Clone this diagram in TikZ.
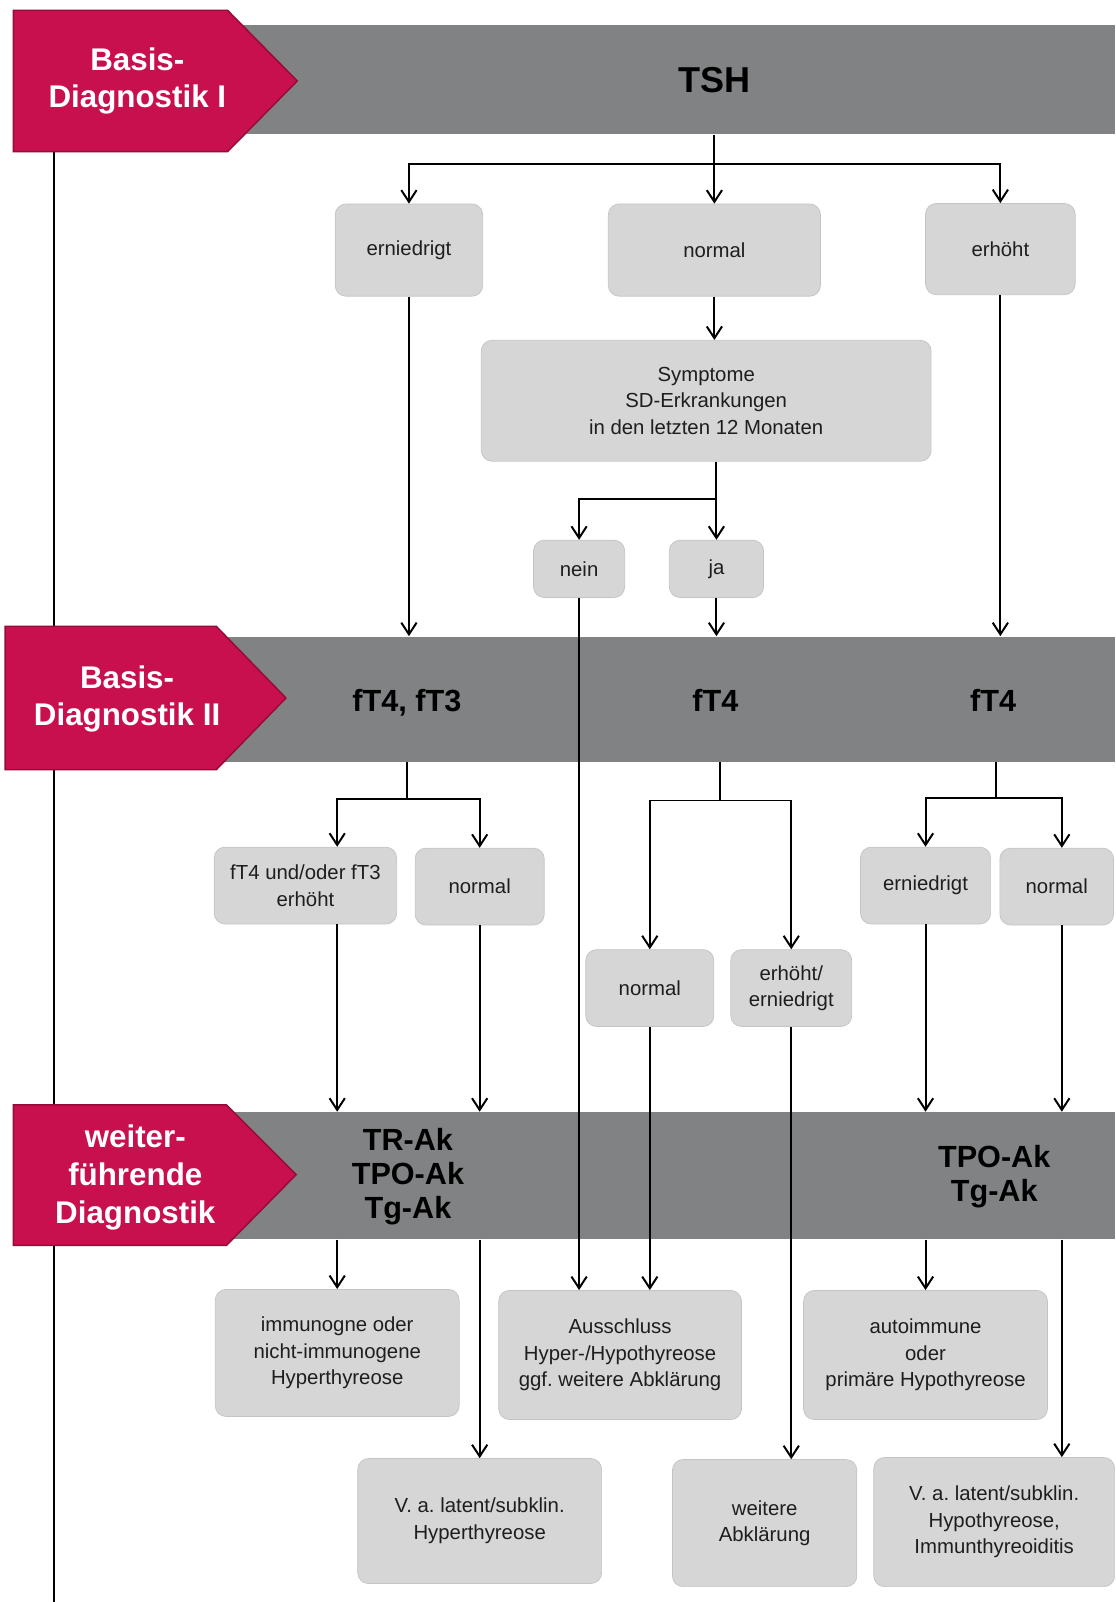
\documentclass[tikz,border=0pt]{standalone}
\usepackage{fontspec}
\setmainfont{Liberation Sans}
\frenchspacing
\usetikzlibrary{arrows.meta}
\definecolor{tabred}{RGB}{200,16,78}
\definecolor{tabedge}{RGB}{150,10,55}
\definecolor{bargray}{RGB}{128,130,131}
\definecolor{boxgray}{RGB}{214,214,214}
\definecolor{boxedge}{RGB}{196,196,196}
\definecolor{ink}{RGB}{30,30,30}

\begin{document}
\begin{tikzpicture}[x=0.02cm, y=-0.02cm,
  box/.style={draw=boxedge, fill=boxgray, rounded corners=6pt, align=center, inner sep=0pt, text=ink, font=\fontsize{11.3}{14.8}\selectfont},
  bar/.style={fill=bargray, draw=none, inner sep=0pt},
  head/.style={align=center, text=black, font=\fontsize{17}{18.8}\selectfont\bfseries},
  tab/.style={fill=tabred, draw=tabedge, line width=0.8pt},
  tabtext/.style={align=center, text=white, font=\fontsize{17.4}{21}\selectfont\bfseries},
  line/.style={draw=black, line width=1.1pt},
  arr/.style={line, -{Straight Barb[length=6.5pt,width=8.5pt,line width=1.1pt]}}]
\useasboundingbox (0,0) rectangle (1088,1563);
\draw[line] (53,20) -- (53,1563);
\node[bar, minimum width=17.26cm, minimum height=2.14cm] (B1) at (656.5,77.5) {};
\node[bar, minimum width=17.46cm, minimum height=2.44cm] (B2) at (651.5,682) {};
\node[bar, minimum width=17.26cm, minimum height=2.48cm] (B3) at (656.5,1147) {};
\draw[tab] (13,10) -- (222,10) -- (290,79) -- (222,148) -- (13,148) -- cycle;
\draw[tab] (5,611) -- (211,611) -- (279,681) -- (211,751) -- (5,751) -- cycle;
\draw[tab] (13,1078) -- (221,1078) -- (289,1146) -- (221,1215) -- (13,1215) -- cycle;
\node[tabtext] (L1) at (134,79) {Basis-\\Diagnostik I};
\node[tabtext] (L2) at (124,682) {Basis-\\Diagnostik II};
\node[tabtext] (L3) at (132,1149) {weiter-\\führende\\Diagnostik};
\node[head, font=\fontsize{20}{22}\selectfont\bfseries] (TSH) at (697,78) {TSH};
\node[head, text depth=0pt] (F1) at (397,683) {fT4, fT3};
\node[head, text depth=0pt] (F2) at (698,683) {fT4};
\node[head, text depth=0pt] (F3) at (969,683) {fT4};
\node[head] (K1) at (398,1148) {TR-Ak\\TPO-Ak\\Tg-Ak};
\node[head] (K2) at (970,1148) {TPO-Ak\\Tg-Ak};
\node[box, minimum width=2.88cm, minimum height=1.8cm] (E1) at (399,244) {erniedrigt};
\node[box, minimum width=4.14cm, minimum height=1.8cm] (N1) at (697,244) {normal};
\node[box, minimum width=2.92cm, minimum height=1.78cm] (H1) at (976,243) {erhöht};
\node[box, minimum width=8.78cm, minimum height=2.36cm] (S1) at (689,391) {Symptome\\SD-Erkrankungen\\in den letzten 12 Monaten};
\node[box, minimum width=1.78cm, minimum height=1.12cm] (NE) at (565,555) {nein};
\node[box, minimum width=1.84cm, minimum height=1.12cm] (JA) at (699,555) {ja};
\node[box, minimum width=3.56cm, minimum height=1.5cm] (U2) at (298,864) {fT4 und/oder fT3\\erhöht};
\node[box, minimum width=2.52cm, minimum height=1.5cm] (N2) at (468,865) {normal};
\node[box, minimum width=2.5cm, minimum height=1.5cm] (M2) at (634,964) {normal};
\node[box, minimum width=2.36cm, minimum height=1.5cm] (X2) at (772,964) {erhöht/\\erniedrigt};
\node[box, minimum width=2.54cm, minimum height=1.5cm] (R2) at (903,864) {erniedrigt};
\node[box, minimum width=2.22cm, minimum height=1.5cm] (Q2) at (1031,865) {normal};
\node[box, minimum width=4.76cm, minimum height=2.48cm] (I3) at (329,1320) {immunogne oder\\nicht-immunogene\\Hyperthyreose};
\node[box, minimum width=4.74cm, minimum height=2.52cm] (A3) at (605,1322) {Ausschluss\\Hyper-/Hypothyreose\\ggf. weitere Abklärung};
\node[box, minimum width=4.76cm, minimum height=2.52cm] (P3) at (903,1322) {autoimmune\\oder\\primäre Hypothyreose};
\node[box, minimum width=4.76cm, minimum height=2.44cm] (V3) at (468,1484) {V. a. latent/subklin.\\Hyperthyreose};
\node[box, minimum width=3.6cm, minimum height=2.48cm] (W3) at (746,1486) {weitere\\Abklärung};
\node[box, minimum width=4.7cm, minimum height=2.52cm] (Y3) at (970,1485) {V. a. latent/subklin.\\Hypothyreose,\\Immunthyreoiditis};
\coordinate (T1) at (697,160);
\coordinate (T2) at (699,487);
\coordinate (T3) at (397,780);
\coordinate (T4) at (702,781);
\coordinate (T5) at (972,779);
\coordinate (U2x) at ([xshift=0.62cm]U2.south);
\coordinate (Q2x) at ([xshift=0.1cm]Q2.south);
\draw[line] (B1.south -| T1) -- (T1);
\draw[arr] (T1) -| (E1.north);
\draw[arr] (T1) -| (H1.north);
\draw[arr] (T1) -- (N1.north);
\draw[arr] (N1.south) -- (N1.south |- S1.north);
\draw[line] (S1.south -| T2) -- (T2);
\draw[arr] (T2) -| (NE.north);
\draw[arr] (T2) -- (JA.north);
\draw[arr] (JA.south) -- (JA.south |- B2.north);
\draw[arr] (E1.south) -- (E1.south |- B2.north);
\draw[arr] (H1.south) -- (H1.south |- B2.north);
\draw[arr] (NE.south) -- (NE.south |- A3.north);
\draw[line] (B2.south -| T3) -- (T3);
\draw[arr] (T3) -| (U2x |- U2.north);
\draw[arr] (T3) -| (N2.north);
\draw[line] (B2.south -| T4) -- (T4);
\draw[arr] (T4) -| (M2.north);
\draw[arr] (T4) -| (X2.north);
\draw[line] (B2.south -| T5) -- (T5);
\draw[arr] (T5) -| (R2.north);
\draw[arr] (T5) -| (Q2x |- Q2.north);
\draw[arr] (U2x) -- (U2x |- B3.north);
\draw[arr] (N2.south) -- (N2.south |- B3.north);
\draw[arr] (M2.south) -- (M2.south |- A3.north);
\draw[arr] (X2.south) -- (X2.south |- W3.north);
\draw[arr] (R2.south) -- (R2.south |- B3.north);
\draw[arr] (Q2x) -- (Q2x |- B3.north);
\draw[arr] (B3.south -| U2x) -- (U2x |- I3.north);
\draw[arr] (B3.south -| N2) -- (V3.north);
\draw[arr] (B3.south -| R2) -- (P3.north);
\draw[arr] (B3.south -| Q2x) -- (Q2x |- Y3.north);
\end{tikzpicture}
\end{document}
